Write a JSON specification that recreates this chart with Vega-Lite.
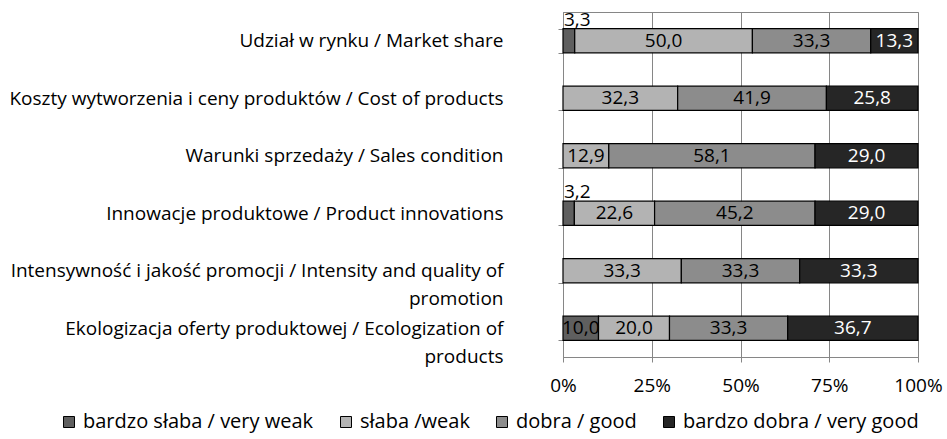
{
  "$schema": "https://vega.github.io/schema/vega-lite/v6.json",
  "width": 355,
  "height": 345,
  "autosize": {"type": "none"},
  "padding": {"left": 563, "top": 12, "right": 29, "bottom": 82},
  "config": {
    "font": "Open Sans",
    "view": {"stroke": "#868686", "strokeWidth": 1},
    "locale": {"number": {"decimal": ",", "thousands": " ", "grouping": [3], "currency": ["", " zł"]}},
    "axis": {"labelFont": "Open Sans", "labelFontSize": 19, "labelColor": "#000000", "domainColor": "#868686", "tickColor": "#868686", "tickSize": 5}
  },
  "data": {
    "values": [
      {"cat": "Udział w rynku / Market share", "level": "bardzo słaba / very weak", "value": 3.3},
      {"cat": "Udział w rynku / Market share", "level": "słaba /weak", "value": 50.0},
      {"cat": "Udział w rynku / Market share", "level": "dobra / good", "value": 33.3},
      {"cat": "Udział w rynku / Market share", "level": "bardzo dobra / very good", "value": 13.3},
      {"cat": "Koszty wytworzenia i ceny produktów / Cost of products", "level": "słaba /weak", "value": 32.3},
      {"cat": "Koszty wytworzenia i ceny produktów / Cost of products", "level": "dobra / good", "value": 41.9},
      {"cat": "Koszty wytworzenia i ceny produktów / Cost of products", "level": "bardzo dobra / very good", "value": 25.8},
      {"cat": "Warunki sprzedaży / Sales condition", "level": "słaba /weak", "value": 12.9},
      {"cat": "Warunki sprzedaży / Sales condition", "level": "dobra / good", "value": 58.1},
      {"cat": "Warunki sprzedaży / Sales condition", "level": "bardzo dobra / very good", "value": 29.0},
      {"cat": "Innowacje produktowe / Product innovations", "level": "bardzo słaba / very weak", "value": 3.2},
      {"cat": "Innowacje produktowe / Product innovations", "level": "słaba /weak", "value": 22.6},
      {"cat": "Innowacje produktowe / Product innovations", "level": "dobra / good", "value": 45.2},
      {"cat": "Innowacje produktowe / Product innovations", "level": "bardzo dobra / very good", "value": 29.0},
      {"cat": "Intensywność i jakość promocji / Intensity and quality of promotion", "level": "słaba /weak", "value": 33.3},
      {"cat": "Intensywność i jakość promocji / Intensity and quality of promotion", "level": "dobra / good", "value": 33.3},
      {"cat": "Intensywność i jakość promocji / Intensity and quality of promotion", "level": "bardzo dobra / very good", "value": 33.3},
      {"cat": "Ekologizacja oferty produktowej / Ecologization of products", "level": "bardzo słaba / very weak", "value": 10.0},
      {"cat": "Ekologizacja oferty produktowej / Ecologization of products", "level": "słaba /weak", "value": 20.0},
      {"cat": "Ekologizacja oferty produktowej / Ecologization of products", "level": "dobra / good", "value": 33.3},
      {"cat": "Ekologizacja oferty produktowej / Ecologization of products", "level": "bardzo dobra / very good", "value": 36.7}
    ]
  },
  "transform": [
    {"calculate": "indexof(['bardzo słaba / very weak','słaba /weak','dobra / good','bardzo dobra / very good'], datum.level)", "as": "ord"},
    {"stack": "value", "groupby": ["cat"], "sort": [{"field": "ord", "order": "ascending"}], "offset": "normalize", "as": ["x0", "x1"]},
    {"calculate": "(datum.x0 + datum.x1) / 2", "as": "xm"}
  ],
  "encoding": {
    "y": {
      "field": "cat", "type": "nominal", "title": null,
      "sort": ["Udział w rynku / Market share", "Koszty wytworzenia i ceny produktów / Cost of products", "Warunki sprzedaży / Sales condition", "Innowacje produktowe / Product innovations", "Intensywność i jakość promocji / Intensity and quality of promotion", "Ekologizacja oferty produktowej / Ecologization of products"],
      "scale": {"paddingInner": 0.58, "paddingOuter": 0.29},
      "axis": {
        "tickBand": "extent",
        "labelPadding": 55,
        "labelLimit": 600,
        "labelLineHeight": 28,
        "labelExpr": "datum.value == 'Intensywność i jakość promocji / Intensity and quality of promotion' ? ['Intensywność i jakość promocji / Intensity and quality of', 'promotion'] : datum.value == 'Ekologizacja oferty produktowej / Ecologization of products' ? ['Ekologizacja oferty produktowej / Ecologization of', 'products'] : datum.label"
      }
    }
  },
  "layer": [
    {
      "mark": {"type": "bar", "stroke": "#000000", "strokeWidth": 1.2},
      "encoding": {
        "x": {"field": "x0", "type": "quantitative", "scale": {"domain": [0, 1], "nice": false},
          "axis": {"format": ".0%", "values": [0, 0.25, 0.5, 0.75, 1], "grid": true, "gridColor": "#868686", "labelPadding": 14, "labelFlush": false, "title": null}},
        "x2": {"field": "x1"},
        "color": {
          "field": "level", "type": "nominal",
          "scale": {"domain": ["bardzo słaba / very weak", "słaba /weak", "dobra / good", "bardzo dobra / very good"], "range": ["#5f5f5f", "#b3b3b3", "#8c8c8c", "#262626"]},
          "legend": {"orient": "none", "legendX": -504, "legendY": 400, "direction": "horizontal", "title": null, "symbolType": "square", "symbolSize": 121, "symbolStrokeColor": "#000000", "symbolStrokeWidth": 1, "labelFont": "Open Sans", "labelFontSize": 20, "labelColor": "#000000", "columnPadding": 22, "labelOffset": 4, "labelLimit": 400}
        }
      }
    },
    {
      "transform": [{"filter": "datum.value >= 5"}],
      "mark": {"type": "text", "font": "Open Sans", "fontSize": 19, "align": "center", "baseline": "middle"},
      "encoding": {
        "x": {"field": "xm", "type": "quantitative"},
        "text": {"field": "value", "type": "quantitative", "format": ".1f"},
        "fill": {"condition": {"test": "datum.level == 'bardzo dobra / very good'", "value": "#ffffff"}, "value": "#000000"}
      }
    },
    {
      "transform": [{"filter": "datum.value < 5"}],
      "mark": {"type": "text", "font": "Open Sans", "fontSize": 19, "align": "left", "baseline": "bottom", "dy": -11, "dx": 1, "fill": "#000000"},
      "encoding": {
        "x": {"field": "x0", "type": "quantitative"},
        "text": {"field": "value", "type": "quantitative", "format": ".1f"}
      }
    }
  ]
}
